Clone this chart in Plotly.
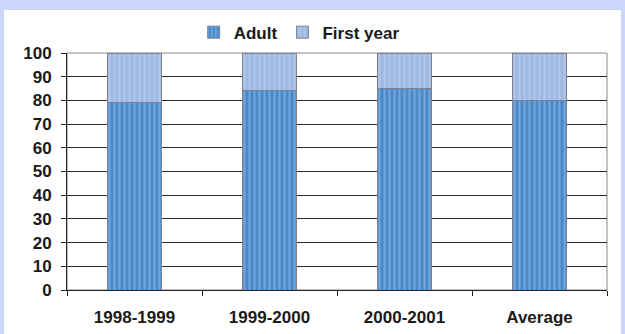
import plotly.graph_objects as go

categories = ["1998-1999", "1999-2000", "2000-2001", "Average"]
adult = [79, 84, 85, 80]
first_year = [21, 16, 15, 20]
y_ticks = [0, 10, 20, 30, 40, 50, 60, 70, 80, 90, 100]

FONT = "Liberation Sans, Arial"

fig = go.Figure()
fig.add_trace(go.Bar(
    x=categories, y=adult, name="Adult",
    marker=dict(color="#5a96d2", line=dict(color="#7f7f8f", width=1),
                pattern=dict(shape="|", fgcolor="#9cc8ee", bgcolor="#4a88ca", size=5, solidity=0.4)),
))
fig.add_trace(go.Bar(
    x=categories, y=first_year, name="First year",
    marker=dict(color="#aac4e8", line=dict(color="#7f7f8f", width=1),
                pattern=dict(shape="|", fgcolor="#c8d8f2", bgcolor="#9db8e2", size=5, solidity=0.4)),
))

fig.update_layout(
    barmode="stack",
    bargap=0.6,
    width=625, height=334,
    margin=dict(l=67, r=18, t=53, b=44, autoexpand=False),
    paper_bgcolor="#cad6fa",
    plot_bgcolor="white",
    font=dict(family=FONT, size=17, color="#1a1a1a", weight="bold"),
    showlegend=True,
    legend=dict(orientation="h", x=0.43, xanchor="center", y=1.01, yanchor="bottom",
                font=dict(size=17, family=FONT, weight="bold"),
                bgcolor="rgba(0,0,0,0)", itemwidth=30, traceorder="normal"),
    shapes=[dict(type="rect", xref="paper", yref="paper", x0=-0.1167, x1=1.026,
                 y0=-0.19, y1=1.181, fillcolor="white", line=dict(width=0), layer="below")],
)
fig.update_yaxes(range=[0, 100], tickvals=y_ticks, showgrid=True, gridcolor="#2a2a2a", gridwidth=1,
                 showline=True, linecolor="#222", linewidth=1, ticks="outside", ticklen=5,
                 tickcolor="#222", mirror=False, ticklabelstandoff=6, automargin=False,
                 tickfont=dict(family=FONT, size=17, color="#1a1a1a", weight="bold"),
                 zeroline=False)
fig.update_xaxes(showline=True, linecolor="#222", linewidth=1, ticks="outside", ticklen=5,
                 tickcolor="#222", tickson="boundaries", ticklabelstandoff=12, automargin=False,
                 tickfont=dict(family=FONT, size=17, color="#1a1a1a", weight="bold"))
fig.add_shape(type="rect", xref="paper", yref="paper", x0=0, x1=1, y0=0, y1=1,
              line=dict(color="#888", width=1), layer="below")

fig.write_html("out.html")
